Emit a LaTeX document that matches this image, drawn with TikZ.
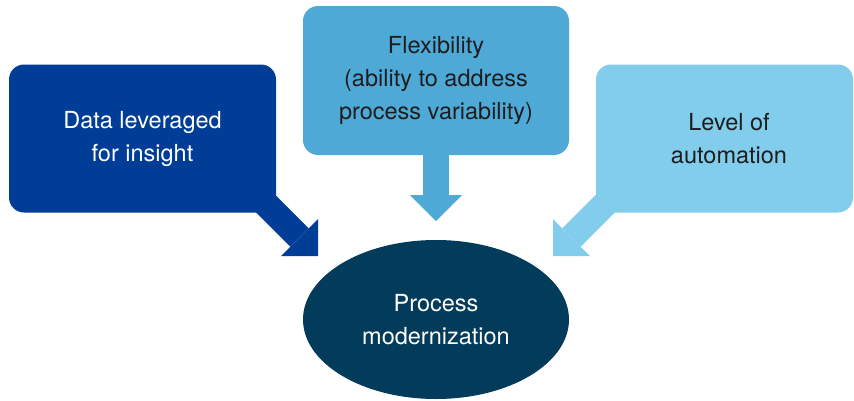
\documentclass[tikz,border=0pt]{standalone}
\usepackage{fontspec}
\setmainfont{TeX Gyre Heros}
\usetikzlibrary{arrows.meta,shapes.geometric}
\definecolor{cdark}{RGB}{0,61,151}
\definecolor{cmid}{RGB}{78,169,215}
\definecolor{clight}{RGB}{130,204,236}
\definecolor{cnavy}{RGB}{3,60,90}
\definecolor{ctext}{RGB}{30,30,30}
\begin{document}
\begin{tikzpicture}[x=1pt,y=-1pt,
  box/.style={rectangle,rounded corners=15pt,inner sep=0pt,align=center,
    font=\fontsize{23.5}{33}\selectfont},
  blockarrow/.style={line width=26pt,
    -{Triangle[length=26pt 0 0,width=52pt 0 0,line width=0pt]}},
  hub/.style={ellipse,inner sep=0pt,minimum width=266pt,minimum height=159pt,
    fill=cnavy,text=white,align=center,font=\fontsize{23.5}{33}\selectfont}]
\useasboundingbox (0,0) rectangle (854,400);
% boxes
\node[box,fill=cdark,text=white,minimum width=267pt,minimum height=148pt] (data) at (142.5,138.5) {Data leveraged\\for insight};
\node[box,fill=cmid,text=ctext,minimum width=266pt,minimum height=149pt] (flex) at (436,80.5) {Flexibility\\(ability to address\\process variability)};
\node[box,fill=clight,text=ctext,minimum width=257pt,minimum height=148pt] (auto) at (724.5,138.5) {\hspace*{9pt}Level of\\\hspace*{9pt}automation};
% arrow ends
\coordinate (s1) at (250,188);
\coordinate (t1) at (318,256);
\coordinate (s2) at (436,140);
\coordinate (t2) at (436,221);
\coordinate (s3) at (621,188);
\coordinate (t3) at (553,256);
\draw[blockarrow,cdark] (s1) -- (t1);
\draw[blockarrow,cmid] (s2) -- (t2);
\draw[blockarrow,clight] (s3) -- (t3);
% hub
\node[hub] (pm) at (436,319.5) {Process\\modernization};
\end{tikzpicture}
\end{document}
